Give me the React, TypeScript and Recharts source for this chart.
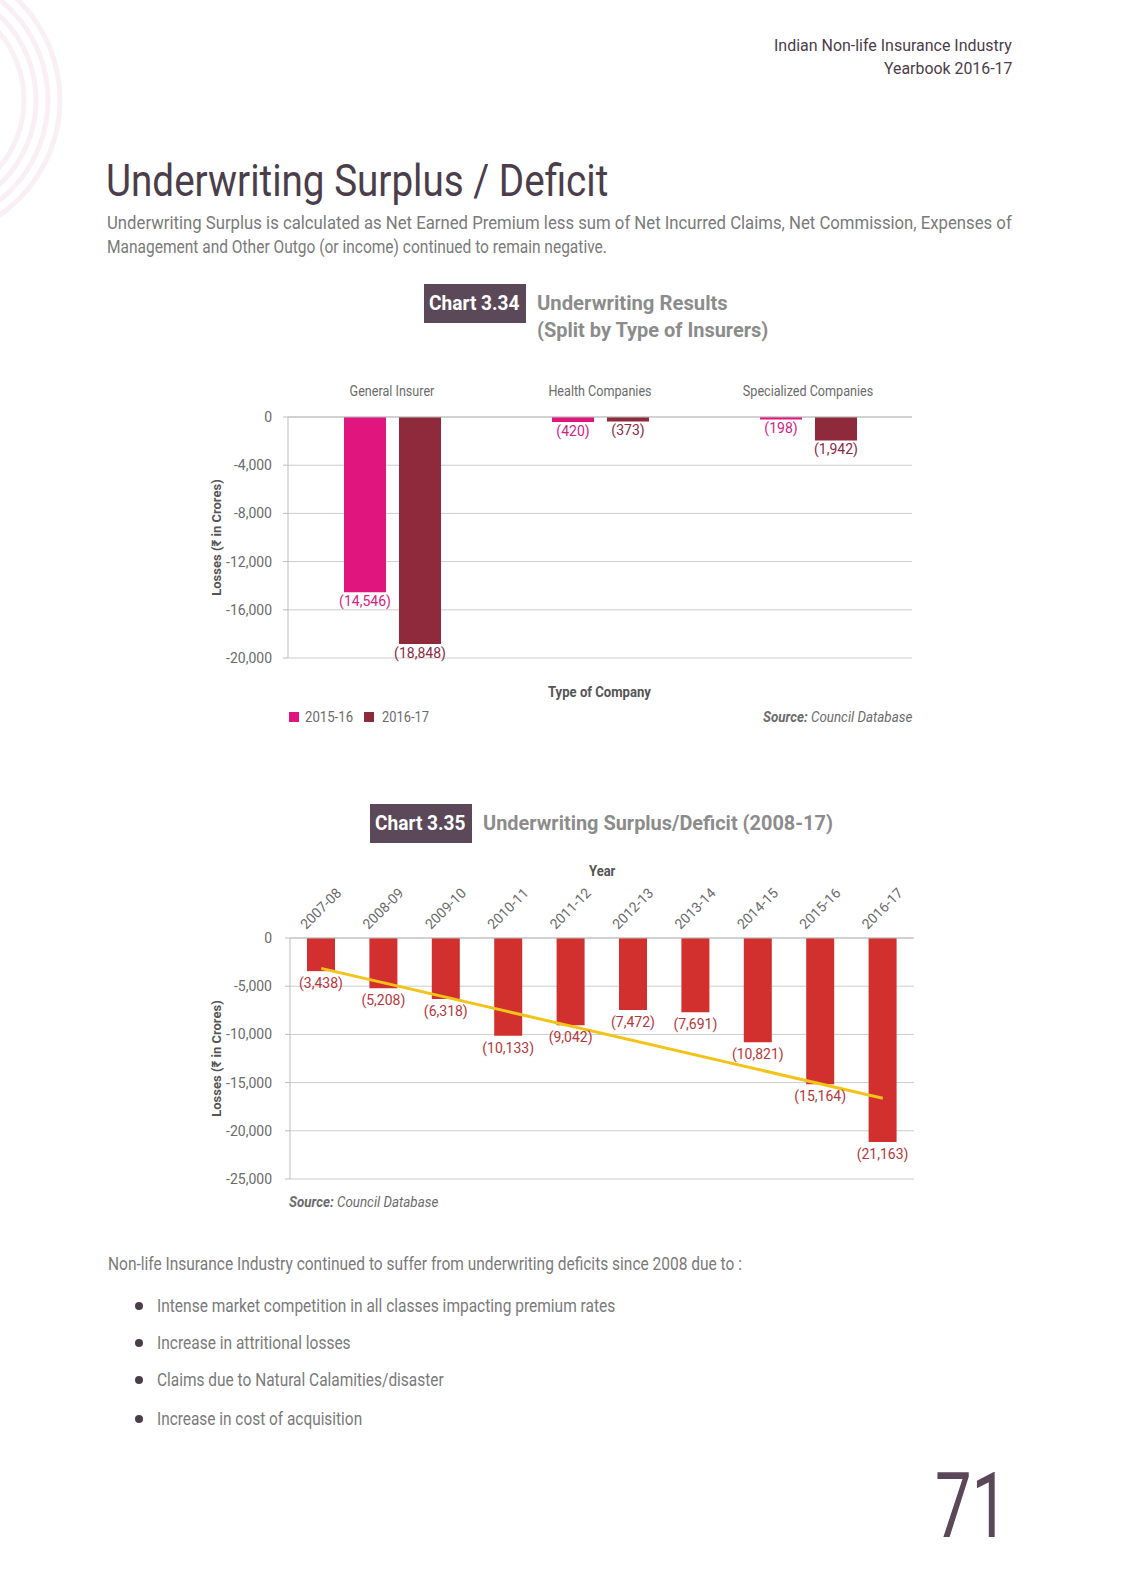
import React, { useLayoutEffect, useRef, useState } from "react";
import {
  BarChart,
  Bar,
  ComposedChart,
  Line,
  XAxis,
  YAxis,
  CartesianGrid,
  LabelList,
} from "recharts";

const FONT = "Roboto, 'DejaVu Sans', sans-serif";
const INK = "#4b3d4a";
const GRAY = "#7a7a7a";
const GRID = "#cdcdcd";

// Chart 3.34
const companyTypes = ["General Insurer", "Health Companies", "Specialized Companies"];
const results1516 = [-14546, -420, -198];
const results1617 = [-18848, -373, -1942];
const yTicks1 = [0, -4000, -8000, -12000, -16000, -20000];

// Chart 3.35
const years = ["2007-08", "2008-09", "2009-10", "2010-11", "2011-12", "2012-13", "2013-14", "2014-15", "2015-16", "2016-17"];
const deficits = [-3438, -5208, -6318, -10133, -9042, -7472, -7691, -10821, -15164, -21163];
const trendEnds = [-3150, null, null, null, null, null, null, null, null, -16630];
const yTicks2 = [0, -5000, -10000, -15000, -20000, -25000];

const bullets = [
  "Intense market competition in all classes impacting premium rates",
  "Increase in attritional losses",
  "Claims due to Natural Calamities/disaster",
  "Increase in cost of acquisition",
];
const bulletWidths = [458, 194, 287, 205];
const bulletRows = [1306, 1343, 1380, 1419];

const data1 = companyTypes.map((name, i) => ({ name, a: results1516[i], b: results1617[i] }));
const data2 = years.map((year, i) => ({ year, value: deficits[i], trend: trendEnds[i] }));

const paren = (v: any) => `(${Math.abs(Number(v)).toLocaleString("en-US")})`;
const thousands = (v: any) => Number(v).toLocaleString("en-US");

// text squeezed horizontally to a measured width (the print font is condensed)
function Fit({
  left,
  top,
  w,
  size,
  lh,
  color = GRAY,
  bold = false,
  italic = false,
  children,
}: {
  left: number;
  top: number;
  w: number;
  size: number;
  lh: number;
  color?: string;
  bold?: boolean;
  italic?: boolean;
  children: React.ReactNode;
}) {
  const ref = useRef<HTMLSpanElement>(null);
  const [sx, setSx] = useState(1);
  useLayoutEffect(() => {
    const el = ref.current;
    if (el && el.offsetWidth) setSx(w / el.offsetWidth);
  }, [w]);
  return (
    <div style={{ position: "absolute", left, top, width: w, height: lh, overflow: "visible" }}>
      <span
        ref={ref}
        style={{
          display: "inline-block",
          whiteSpace: "nowrap",
          fontFamily: FONT,
          fontSize: size,
          lineHeight: `${lh}px`,
          color,
          fontWeight: bold ? "bold" : "normal",
          fontStyle: italic ? "italic" : "normal",
          transform: `scaleX(${sx})`,
          transformOrigin: "left top",
        }}
      >
        {children}
      </span>
    </div>
  );
}

const belowLabel = (color: string, gap: number) => (props: any) => {
  const { x, y, width, height, value } = props;
  const bottom = Math.max(Number(y), Number(y) + Number(height));
  return (
    <text
      x={Number(x) + Number(width) / 2}
      y={bottom + gap}
      textAnchor="middle"
      fill={color}
      fontSize={14}
      fontFamily={FONT}
    >
      {paren(value)}
    </text>
  );
};

function YTitle(props: any) {
  const vb = props.viewBox || {};
  const cx = vb.x + props.dx;
  const cy = vb.y + vb.height / 2;
  return (
    <text
      x={cx}
      y={cy}
      transform={`rotate(-90, ${cx}, ${cy})`}
      textAnchor="middle"
      fill="#555"
      fontSize={13}
      fontWeight="bold"
      fontFamily={FONT}
    >
      Losses (₹ in Crores)
    </text>
  );
}

function YearTick(props: any) {
  const { x, y, payload } = props;
  const tx = Number(x) + 3;
  return (
    <text
      x={tx}
      y={y}
      transform={`rotate(-45, ${tx}, ${y})`}
      textAnchor="middle"
      fill="#6b6b6b"
      fontSize={14}
      fontFamily={FONT}
    >
      {payload.value}
    </text>
  );
}

function CategoryTick(props: any) {
  const { x, y, payload } = props;
  return (
    <text
      x={x}
      y={y}
      transform={`translate(${x} ${y}) scale(0.9 1) translate(${-x} ${-y})`}
      textAnchor="middle"
      fill="#6b6b6b"
      fontSize={14}
      fontFamily={FONT}
    >
      {payload.value}
    </text>
  );
}

function ChartTag({ left, top, tag }: { left: number; top: number; tag: string }) {
  return (
    <div style={{ position: "absolute", left, top, width: 102, height: 39, background: "#5b4858" }}>
      <Fit left={5} top={0} w={91} size={21} lh={39} color="#fff" bold>
        {tag}
      </Fit>
    </div>
  );
}

export default function App() {
  const tickStyle = { fill: "#6b6b6b", fontSize: 14, fontFamily: FONT };
  return (
    <div
      style={{
        position: "absolute",
        left: 0,
        top: 0,
        width: 1121,
        height: 1577,
        background: "#fff",
        overflow: "hidden",
      }}
    >
      {/* decorative arcs */}
      <svg width={120} height={260} style={{ position: "absolute", left: 0, top: 0 }}>
        {[140, 128, 116, 104].map((r) => (
          <circle key={r} cx={-80} cy={100} r={r} fill="none" stroke="#f9eff5" strokeWidth={5} />
        ))}
      </svg>

      {/* header */}
      <Fit left={774} top={34} w={238} size={16.5} lh={23} color={INK}>
        Indian Non-life Insurance Industry
      </Fit>
      <Fit left={884} top={57} w={128} size={16.5} lh={23} color={INK}>
        Yearbook 2016-17
      </Fit>

      <Fit left={106} top={155} w={502} size={44} lh={52} color={INK}>
        Underwriting Surplus / Deficit
      </Fit>
      <Fit left={107} top={211} w={905} size={17.5} lh={24}>
        Underwriting Surplus is calculated as Net Earned Premium less sum of Net Incurred Claims, Net Commission, Expenses of
      </Fit>
      <Fit left={107} top={235} w={500} size={17.5} lh={24}>
        Management and Other Outgo (or income) continued to remain negative.
      </Fit>

      {/* Chart 3.34 */}
      <ChartTag left={424} top={284} tag="Chart 3.34" />
      <Fit left={537} top={290} w={191} size={21} lh={27} color="#8c8c8c" bold>
        Underwriting Results
      </Fit>
      <Fit left={537} top={317} w={231} size={21} lh={27} color="#8c8c8c" bold>
        (Split by Type of Insurers)
      </Fit>

      <div style={{ position: "absolute", left: 200, top: 360 }}>
        <BarChart
          width={730}
          height={312}
          data={data1}
          margin={{ top: 0, right: 18, left: 18, bottom: 14 }}
          barSize={42}
          barGap={13}
        >
          <CartesianGrid vertical={false} stroke={GRID} />
          <XAxis
            dataKey="name"
            orientation="top"
            height={57}
            tickSize={0}
            tickMargin={21}
            axisLine={{ stroke: "#bdbdbd" }}
            tickLine={false}
            tick={<CategoryTick />}
            interval={0}
          />
          <YAxis
            width={70}
            domain={[-20000, 0]}
            ticks={yTicks1}
            interval={0}
            tickFormatter={thousands}
            tickSize={5}
            tickMargin={11}
            axisLine={{ stroke: "#bdbdbd" }}
            tickLine={{ stroke: "#bdbdbd" }}
            tick={tickStyle}
            label={<YTitle dx={3} />}
          />
          <Bar dataKey="a" name="2015-16" fill="#e0157e" isAnimationActive={false}>
            <LabelList dataKey="a" content={belowLabel("#d4237f", 14)} />
          </Bar>
          <Bar dataKey="b" name="2016-17" fill="#8f2a3c" isAnimationActive={false}>
            <LabelList dataKey="b" content={belowLabel("#8a2a40", 14)} />
          </Bar>
        </BarChart>
      </div>

      <Fit left={548} top={683} w={103} size={14.5} lh={20} color="#555" bold>
        Type of Company
      </Fit>
      <div style={{ position: "absolute", left: 289, top: 712, width: 10, height: 10, background: "#e0157e" }} />
      <Fit left={305} top={707} w={48} size={14} lh={20} color="#6b6b6b">
        2015-16
      </Fit>
      <div style={{ position: "absolute", left: 364, top: 712, width: 10, height: 10, background: "#8f2a3c" }} />
      <Fit left={382} top={707} w={47} size={14} lh={20} color="#6b6b6b">
        2016-17
      </Fit>
      <Fit left={763} top={707} w={149} size={14} lh={20} color="#6b6b6b" italic>
        <b>Source:</b> Council Database
      </Fit>

      {/* Chart 3.35 */}
      <ChartTag left={370} top={804} tag="Chart 3.35" />
      <Fit left={483} top={810} w={350} size={21} lh={27} color="#8c8c8c" bold>
        Underwriting Surplus/Deficit (2008-17)
      </Fit>
      <Fit left={589} top={862} w={26} size={14.5} lh={20} color="#555" bold>
        Year
      </Fit>

      <div style={{ position: "absolute", left: 200, top: 840 }}>
        <ComposedChart
          width={730}
          height={355}
          data={data2}
          margin={{ top: 0, right: 16, left: 20, bottom: 16 }}
          barSize={28}
        >
          <CartesianGrid vertical={false} stroke={GRID} />
          <XAxis
            dataKey="year"
            orientation="top"
            height={98}
            tickSize={0}
            tickMargin={26}
            axisLine={{ stroke: "#bdbdbd" }}
            tickLine={false}
            tick={<YearTick />}
            interval={0}
          />
          <YAxis
            width={70}
            domain={[-25000, 0]}
            ticks={yTicks2}
            interval={0}
            tickFormatter={thousands}
            tickSize={5}
            tickMargin={13}
            axisLine={{ stroke: "#bdbdbd" }}
            tickLine={{ stroke: "#bdbdbd" }}
            tick={tickStyle}
            label={<YTitle dx={1} />}
          />
          <Bar dataKey="value" fill="#d1302e" isAnimationActive={false}>
            <LabelList dataKey="value" content={belowLabel("#b5373b", 17)} />
          </Bar>
          <Line
            dataKey="trend"
            stroke="#f2c318"
            strokeWidth={3}
            dot={false}
            connectNulls
            isAnimationActive={false}
          />
        </ComposedChart>
      </div>

      <Fit left={289} top={1192} w={149} size={14} lh={20} color="#6b6b6b" italic>
        <b>Source:</b> Council Database
      </Fit>

      {/* closing text */}
      <Fit left={108} top={1252} w={634} size={17.5} lh={24}>
        Non-life Insurance Industry continued to suffer from underwriting deficits since 2008 due to :
      </Fit>
      {bullets.map((b, i) => (
        <React.Fragment key={b}>
          <div
            style={{
              position: "absolute",
              left: 135,
              top: bulletRows[i] - 4,
              width: 8,
              height: 8,
              borderRadius: 4,
              background: INK,
            }}
          />
          <Fit left={157} top={bulletRows[i] - 12} w={bulletWidths[i]} size={17.5} lh={24}>
            {b}
          </Fit>
        </React.Fragment>
      ))}

      <Fit left={935} top={1452} w={73} size={90} lh={110} color="#5a4858">
        71
      </Fit>
    </div>
  );
}
